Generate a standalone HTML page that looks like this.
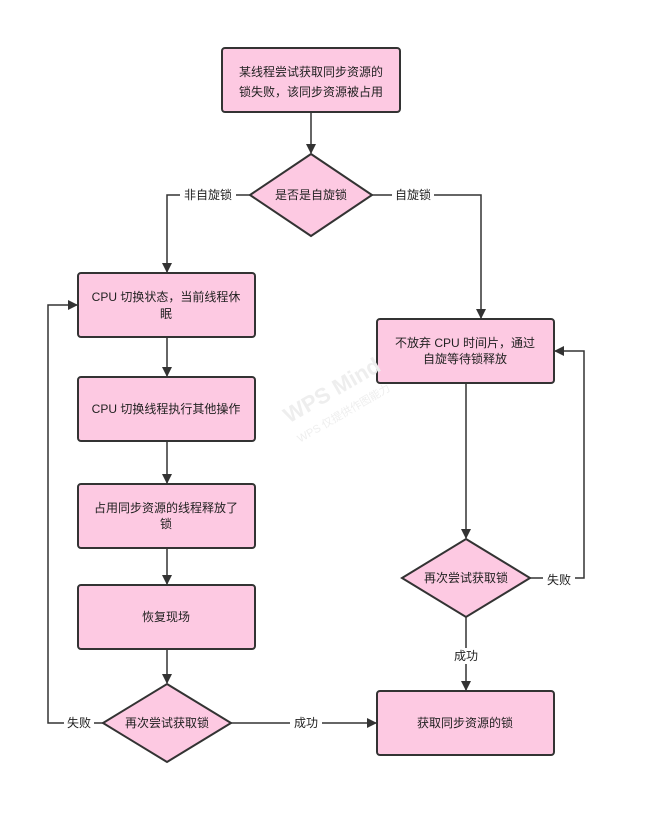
<!DOCTYPE html>
<html><head><meta charset="utf-8"><style>
html,body{margin:0;padding:0;background:#fff;}
svg text{font-family:"Liberation Sans","Noto Sans CJK SC",sans-serif;font-size:12px;fill:#222;}
</style></head><body>
<svg width="646" height="824" viewBox="0 0 646 824" xmlns="http://www.w3.org/2000/svg">
<defs>
<marker id="a" markerWidth="10" markerHeight="10" refX="9" refY="5" orient="auto" markerUnits="userSpaceOnUse">
<path d="M0,0 L10,5 L0,10 z" fill="#333"/></marker>
</defs>
<g fill="#fdc9e2" stroke="#333" stroke-width="2">
<rect x="222" y="48" width="178" height="64" rx="3"/>
<polygon points="311,154 372,195 311,236 250,195"/>
<rect x="78" y="273" width="177" height="64" rx="3"/>
<rect x="78" y="377" width="177" height="64" rx="3"/>
<rect x="78" y="484" width="177" height="64" rx="3"/>
<rect x="78" y="585" width="177" height="64" rx="3"/>
<polygon points="167,684 231,723 167,762 103,723"/>
<rect x="377" y="319" width="177" height="64" rx="3"/>
<polygon points="466,539 530,578 466,617 402,578"/>
<rect x="377" y="691" width="177" height="64" rx="3"/>
</g>
<g fill="none" stroke="#333" stroke-width="1.5">
<line x1="311" y1="113" x2="311" y2="153" marker-end="url(#a)"/>
<polyline points="250,195 167,195 167,272" marker-end="url(#a)"/>
<polyline points="372,195 481,195 481,318" marker-end="url(#a)"/>
<line x1="167" y1="338" x2="167" y2="376" marker-end="url(#a)"/>
<line x1="167" y1="442" x2="167" y2="483" marker-end="url(#a)"/>
<line x1="167" y1="549" x2="167" y2="584" marker-end="url(#a)"/>
<line x1="167" y1="650" x2="167" y2="683" marker-end="url(#a)"/>
<polyline points="103,723 48,723 48,305 77,305" marker-end="url(#a)"/>
<line x1="231" y1="723" x2="376" y2="723" marker-end="url(#a)"/>
<line x1="466" y1="384" x2="466" y2="538" marker-end="url(#a)"/>
<polyline points="530,578 584,578 584,351 555,351" marker-end="url(#a)"/>
<line x1="466" y1="617" x2="466" y2="690" marker-end="url(#a)"/>
</g>
<g fill="#fff">
<rect x="180" y="187" width="56" height="16"/>
<rect x="392" y="187" width="42" height="16"/>
<rect x="64" y="715" width="30" height="16"/>
<rect x="290" y="715" width="32" height="16"/>
<rect x="543" y="570" width="32" height="16"/>
<rect x="451" y="648" width="30" height="16"/>
</g>
<text x="280" y="410" transform="rotate(-30 310 400)" style="font-size:22px;font-weight:bold;fill:#eee">WPS Mind</text>
<text x="280" y="432" transform="rotate(-30 310 400)" style="font-size:11px;fill:#eee">WPS 仅提供作图能力</text>
<g text-anchor="middle">
<text x="311" y="76">某线程尝试获取同步资源的</text>
<text x="311" y="96">锁失败，该同步资源被占用</text>
<text x="311" y="199">是否是自旋锁</text>
<text x="166" y="301">CPU 切换状态，当前线程休</text>
<text x="166" y="318">眠</text>
<text x="166" y="413">CPU 切换线程执行其他操作</text>
<text x="166" y="512">占用同步资源的线程释放了</text>
<text x="166" y="528">锁</text>
<text x="166" y="621">恢复现场</text>
<text x="167" y="727">再次尝试获取锁</text>
<text x="465" y="347">不放弃 CPU 时间片，通过</text>
<text x="465" y="363">自旋等待锁释放</text>
<text x="466" y="582">再次尝试获取锁</text>
<text x="465" y="727">获取同步资源的锁</text>
<text x="208" y="199">非自旋锁</text>
<text x="413" y="199">自旋锁</text>
<text x="79" y="727">失败</text>
<text x="306" y="727">成功</text>
<text x="559" y="584">失败</text>
<text x="466" y="660">成功</text>
</g>
</svg>
</body></html>
